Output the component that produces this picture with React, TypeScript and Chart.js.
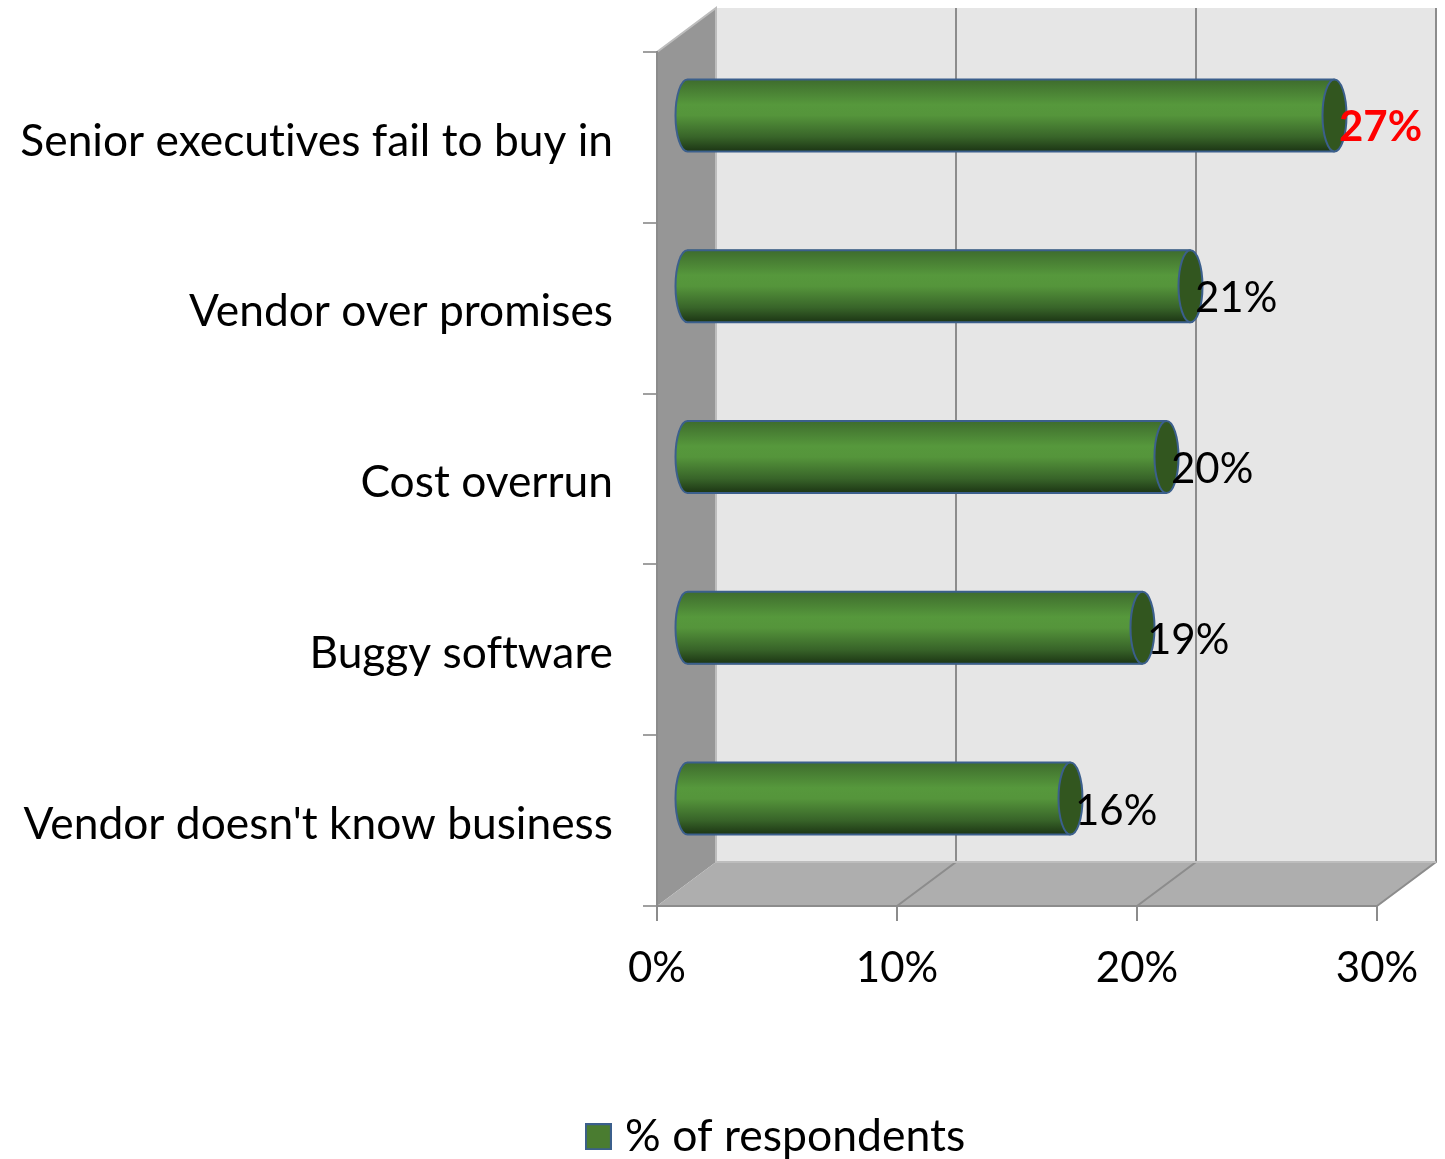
import React, { useEffect, useRef } from "react";
import { Chart, registerables } from "chart.js";

Chart.register(...registerables);

const categories = [
  "Senior executives fail to buy in",
  "Vendor over promises",
  "Cost overrun",
  "Buggy software",
  "Vendor doesn't know business",
];
const respondents = [27, 21, 20, 19, 16];
const xTicks = [0, 10, 20, 30];
const seriesName = "% of respondents";

const FONT = "Lato, Carlito, sans-serif";
const DEPTH_X = 59;
const DEPTH_Y = 44;
const BAR_H = 72;
const CAP_RX = 12;
const EDGE = "#3b5f8c";

function barGradient(ctx: CanvasRenderingContext2D, cy: number) {
  const g = ctx.createLinearGradient(0, cy - BAR_H / 2, 0, cy + BAR_H / 2);
  g.addColorStop(0, "#3e6c2d");
  g.addColorStop(0.35, "#56983c");
  g.addColorStop(0.5, "#55953b");
  g.addColorStop(0.8, "#386429");
  g.addColorStop(1, "#1c3514");
  return g;
}

function legendSwatch() {
  const c = document.createElement("canvas");
  c.width = 27;
  c.height = 27;
  const x = c.getContext("2d") as CanvasRenderingContext2D;
  x.fillStyle = "#4a7c30";
  x.fillRect(0, 0, 27, 27);
  x.strokeStyle = EDGE;
  x.lineWidth = 2;
  x.strokeRect(1, 1, 25, 25);
  return c;
}

const walls = {
  id: "walls",
  afterLayout(chart: any) {
    const lg = chart.legend;
    lg.left += 91;
    lg.right += 91;
    lg.top += 10;
    lg.bottom += 10;
  },
  beforeDraw(chart: any) {
    const { ctx, scales } = chart;
    ctx.letterSpacing = "0.01px";
    const xs = scales.x;
    const l = xs.getPixelForValue(0);
    const r = xs.getPixelForValue(30);
    const t = chart.chartArea.top;
    const b = chart.chartArea.bottom;
    const dx = DEPTH_X;
    const dy = DEPTH_Y;
    ctx.save();
    const poly = (pts: number[][], fill: string) => {
      ctx.beginPath();
      pts.forEach((p, i) => (i ? ctx.lineTo(p[0], p[1]) : ctx.moveTo(p[0], p[1])));
      ctx.closePath();
      ctx.fillStyle = fill;
      ctx.fill();
    };
    poly([[l + dx, t - dy], [r + dx, t - dy], [r + dx, b - dy], [l + dx, b - dy]], "#e6e6e6");
    poly([[l, t], [l + dx, t - dy], [l + dx, b - dy], [l, b]], "#969696");
    poly([[l, b], [l + dx, b - dy], [r + dx, b - dy], [r, b]], "#aeaeae");
    ctx.lineWidth = 2;
    ctx.strokeStyle = "#8c8c8c";
    xTicks.forEach((v) => {
      const x = xs.getPixelForValue(v);
      if (v === 0) return;
      ctx.beginPath();
      ctx.moveTo(x + dx, t - dy);
      ctx.lineTo(x + dx, b - dy);
      ctx.lineTo(x, b);
      ctx.stroke();
    });
    ctx.strokeStyle = "#bdbdbd";
    ctx.beginPath();
    ctx.moveTo(l, t);
    ctx.lineTo(l + dx, t - dy);
    ctx.lineTo(l + dx, b - dy);
    ctx.lineTo(r + dx, b - dy);
    ctx.stroke();
    ctx.restore();
  },
};

const cylinders = {
  id: "cylinders",
  beforeDatasetsDraw(chart: any) {
    const { ctx } = chart;
    ctx.save();
    ctx.translate(DEPTH_X / 2, -DEPTH_Y / 2);
  },
  afterDatasetsDraw(chart: any) {
    const { ctx, scales } = chart;
    const meta = chart.getDatasetMeta(0);
    meta.data.forEach((bar: any) => {
      const top = bar.y - BAR_H / 2;
      const bottom = bar.y + BAR_H / 2;
      ctx.beginPath();
      ctx.moveTo(bar.base + 1, bottom);
      ctx.lineTo(bar.base, bottom);
      ctx.ellipse(bar.base, bar.y, CAP_RX, BAR_H / 2, 0, Math.PI / 2, (3 * Math.PI) / 2);
      ctx.lineTo(bar.base + 1, top);
      ctx.closePath();
      ctx.fillStyle = barGradient(ctx, bar.y);
      ctx.fill();
      ctx.lineWidth = 2;
      ctx.strokeStyle = EDGE;
      ctx.beginPath();
      ctx.moveTo(bar.x, bottom);
      ctx.lineTo(bar.base, bottom);
      ctx.ellipse(bar.base, bar.y, CAP_RX, BAR_H / 2, 0, Math.PI / 2, (3 * Math.PI) / 2);
      ctx.lineTo(bar.x, top);
      ctx.stroke();
      ctx.beginPath();
      ctx.ellipse(bar.x, bar.y, CAP_RX, BAR_H / 2, 0, 0, Math.PI * 2);
      ctx.fillStyle = "#32561f";
      ctx.fill();
      ctx.stroke();
    });
    ctx.restore();
    ctx.save();
    ctx.textAlign = "left";
    ctx.textBaseline = "middle";
    respondents.forEach((v, i) => {
      const top = i === 0;
      ctx.font = `${top ? "bold " : ""}42px ${FONT}`;
      ctx.fillStyle = top ? "#ff0000" : "#000000";
      ctx.fillText(`${v}%`, scales.x.getPixelForValue(v) + 34, scales.y.getPixelForValue(i) - 9.5);
    });
    ctx.restore();
  },
};

export default function App() {
  const ref = useRef<HTMLCanvasElement | null>(null);
  useEffect(() => {
    const swatch = legendSwatch();
    const chart = new Chart(ref.current as HTMLCanvasElement, {
      type: "bar",
      plugins: [walls, cylinders],
      data: {
        labels: categories,
        datasets: [
          {
            label: seriesName,
            data: respondents,
            barThickness: BAR_H,
            clip: false,
            backgroundColor: (c: any) =>
              barGradient(c.chart.ctx, c.chart.scales.y.getPixelForValue(c.dataIndex)),
            borderWidth: 0,
          } as any,
        ],
      },
      options: {
        indexAxis: "y",
        responsive: false,
        animation: false,
        devicePixelRatio: 1,
        layout: { padding: { top: 52, right: 68, left: 0, bottom: 0 } },
        plugins: {
          tooltip: { enabled: false },
          legend: {
            position: "bottom",
            labels: {
              usePointStyle: true,
              pointStyleWidth: 9,
              boxHeight: 27,
              padding: 4,
              color: "#000",
              font: { family: FONT, size: 44.5 },
              generateLabels: () => [
                {
                  text: seriesName,
                  pointStyle: swatch,
                  datasetIndex: 0,
                } as any,
              ],
            },
          },
        },
        scales: {
          x: {
            type: "linear",
            min: 0,
            max: 30,
            afterFit: (s: any) => {
              s.height = 194.5;
            },
            border: { color: "#8c8c8c", width: 2 },
            grid: { drawOnChartArea: false, tickLength: 15, color: "#8c8c8c", lineWidth: 2 },
            ticks: {
              stepSize: 10,
              padding: 22,
              color: "#000",
              font: { family: FONT, size: 42 },
              maxRotation: 0,
              callback: (v: any) => `${v}%`,
            },
          },
          y: {
            type: "category",
            afterFit: (s: any) => {
              s.width = 657;
              s.paddingTop = 0;
              s.paddingBottom = 0;
            },
            border: { color: "#8c8c8c", width: 2 },
            grid: {
              drawOnChartArea: false,
              offset: true,
              tickLength: 14,
              color: "#a0a0a0",
              lineWidth: 2,
            },
            ticks: {
              padding: 30,
              labelOffset: 4,
              color: "#000",
              font: { family: FONT, size: 44.3 },
              autoSkip: false,
            },
          },
        },
      } as any,
    });
    return () => chart.destroy();
  }, []);
  return (
    <div style={{ position: "absolute", left: 0, top: 0, width: 1445, height: 1159 }}>
      <canvas ref={ref} width={1445} height={1159} style={{ display: "block" }} />
    </div>
  );
}
